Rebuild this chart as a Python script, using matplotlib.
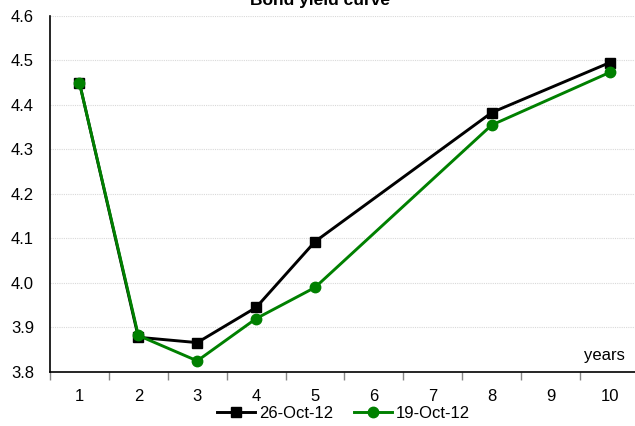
import matplotlib
matplotlib.use("Agg")
import matplotlib.pyplot as plt
from matplotlib.ticker import FixedLocator, NullFormatter

plt.rcParams['font.family'] = ['Liberation Sans', 'DejaVu Sans']

maturities = [1, 2, 3, 4, 5, 8, 10]
oct26 = [4.45, 3.878, 3.866, 3.945, 4.093, 4.383, 4.495]
oct19 = [4.45, 3.882, 3.825, 3.920, 3.990, 4.355, 4.473]
xcats = list(range(1, 11))
yticks = [3.8, 3.9, 4.0, 4.1, 4.2, 4.3, 4.4, 4.5, 4.6]

fig = plt.figure(figsize=(6.35, 4.26), dpi=100)
ax = fig.add_axes([0.0787, 0.1268, 0.9276, 0.8357])

ax.plot(maturities, oct26, color='black', lw=2.1, marker='s', ms=7, label='26-Oct-12', zorder=3)
ax.plot(maturities, oct19, color='#008000', lw=2.1, marker='o', ms=7.5, label='19-Oct-12', zorder=4)

ax.set_xlim(0.5, 10.5)
ax.set_ylim(3.8, 4.6)
ax.set_yticks(yticks)
ax.set_yticklabels([f"{v:.1f}" for v in yticks], fontsize=12)
ax.tick_params(axis='y', length=0, pad=11.5)

ax.set_xticks(xcats)
ax.set_xticklabels([str(c) for c in xcats], fontsize=12)
ax.tick_params(axis='x', which='major', length=0, pad=12)
ax.xaxis.set_minor_locator(FixedLocator([c - 0.5 for c in xcats] + [10.5]))
ax.xaxis.set_minor_formatter(NullFormatter())
ax.tick_params(axis='x', which='minor', length=6, width=1, color='#888888', direction='out')

ax.grid(axis='y', color='#d9d9d9', linestyle=(0, (1, 1)), lw=0.8)
ax.set_axisbelow(True)
for s in ['top', 'right']:
    ax.spines[s].set_visible(False)
ax.spines['left'].set_linewidth(1.2)
ax.spines['bottom'].set_linewidth(1.2)

ax.text(10.26, 3.82, 'years', fontsize=12, ha='right', va='bottom')

fig.text(0.504, 1.0, 'Bond yield curve', fontsize=12.5, fontweight='bold', ha='center', va='center')

fig.legend(loc='center', bbox_to_anchor=(0.541, 0.03), ncol=2, frameon=False, fontsize=12,
           handlelength=2.3, handletextpad=0.25, columnspacing=1.2, borderpad=0)

fig.savefig('out.png', dpi=100)
